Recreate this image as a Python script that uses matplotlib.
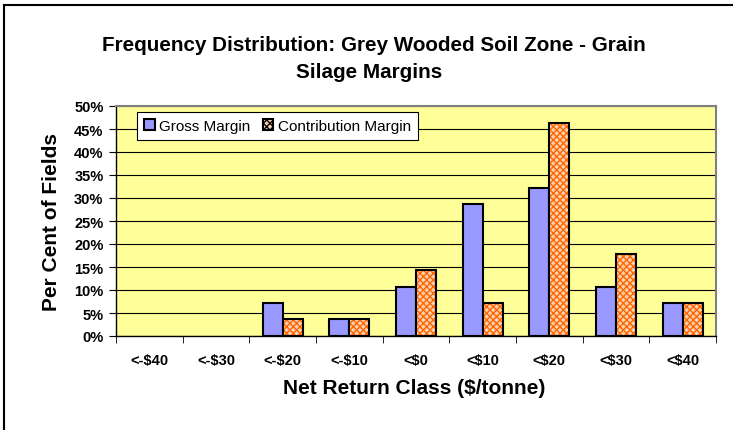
import matplotlib.pyplot as plt
import numpy as np

plt.rcParams['font.family'] = ['Liberation Sans', 'DejaVu Sans']
plt.rcParams['hatch.linewidth'] = 1.0

# data (per cent of fields)
classes = ['<-$40', '<-$30', '<-$20', '<-$10', '<$0', '<$10', '<$20', '<$30', '<$40']
gross = [0, 0, 7.1, 3.6, 10.7, 28.6, 32.1, 10.7, 7.1]
contribution = [0, 0, 3.6, 3.6, 14.3, 7.1, 46.4, 17.9, 7.1]
yticks = [0, 5, 10, 15, 20, 25, 30, 35, 40, 45, 50]

W, H = 733, 431
fig = plt.figure(figsize=(W / 100, H / 100), dpi=100)
# chart border: only the left and top edges fall inside the picture
fig.add_artist(plt.Line2D([3.5 / W, 3.5 / W], [0, 1 - 6 / H], color='black', linewidth=1.5))
fig.add_artist(plt.Line2D([3.5 / W, 1], [1 - 6 / H, 1 - 6 / H], color='black', linewidth=1.5))

ax = fig.add_axes([116 / W, 1 - 337 / H, 600 / W, 230 / H])
ax.set_facecolor('#FFFF99')

x = np.arange(len(classes))
w = 0.3
# empty classes get no outline
lw_g = [1.5 if v > 0 else 0 for v in gross]
lw_c = [1.5 if v > 0 else 0 for v in contribution]
ax.bar(x - w / 2, gross, w, color='#9999FF', edgecolor='black', linewidth=lw_g,
       label='Gross Margin', zorder=3)
ax.bar(x + w / 2, contribution, w, color='#FFD0B0', edgecolor='#FF6600', hatch='xxxxx',
       linewidth=0, label='Contribution Margin', zorder=3)
# black outline on top of the hatched bars
ax.bar(x + w / 2, contribution, w, fill=False, edgecolor='black', linewidth=lw_c, zorder=4)

ax.set_xlim(-0.5, len(classes) - 0.5)
ax.set_ylim(0, 50)
ax.set_yticks(yticks)
ax.set_yticklabels([f'{v}%' for v in yticks], fontsize=10.5, fontweight='bold')
ax.set_xticks(x)
ax.set_xticklabels(classes, fontsize=10.5, fontweight='bold')
ax.set_xticks(np.arange(len(classes) + 1) - 0.5, minor=True)
ax.tick_params(axis='x', which='major', length=0, pad=12)
ax.tick_params(axis='x', which='minor', length=5, direction='out')
ax.tick_params(axis='y', length=5, direction='out', pad=4)
ax.grid(axis='y', color='black', linewidth=0.8, zorder=1)

for s in ['top', 'right']:
    ax.spines[s].set_color('#808080')
    ax.spines[s].set_linewidth(1.5)
for s in ['left', 'bottom']:
    ax.spines[s].set_color('black')
    ax.spines[s].set_linewidth(1.0)

ax.set_ylabel('Per Cent of Fields', fontsize=15, fontweight='bold')
ax.yaxis.set_label_coords(-0.092, 0.5)
ax.set_xlabel('Net Return Class ($/tonne)', fontsize=15, fontweight='bold')
ax.xaxis.set_label_coords(0.497, -0.183)

fig.text(374 / W, 1 - 51 / H, 'Frequency Distribution: Grey Wooded Soil Zone - Grain',
         ha='center', va='baseline', fontsize=14.9, fontweight='bold')
fig.text(369 / W, 1 - 77.5 / H, 'Silage Margins',
         ha='center', va='baseline', fontsize=14.9, fontweight='bold')

leg = ax.legend(loc='upper left', bbox_to_anchor=(21 / 600, 1 - 6 / 230), ncol=2,
                frameon=True, fancybox=False, framealpha=1, edgecolor='black',
                fontsize=11, handlelength=0.7, handleheight=0.7, handletextpad=0.3,
                columnspacing=0.8, borderpad=0.45, borderaxespad=0)
leg.get_frame().set_linewidth(0.8)
for h in leg.legend_handles:
    h.set_edgecolor('black')
    h.set_linewidth(1.5)

fig.savefig('out.png', dpi=100)
